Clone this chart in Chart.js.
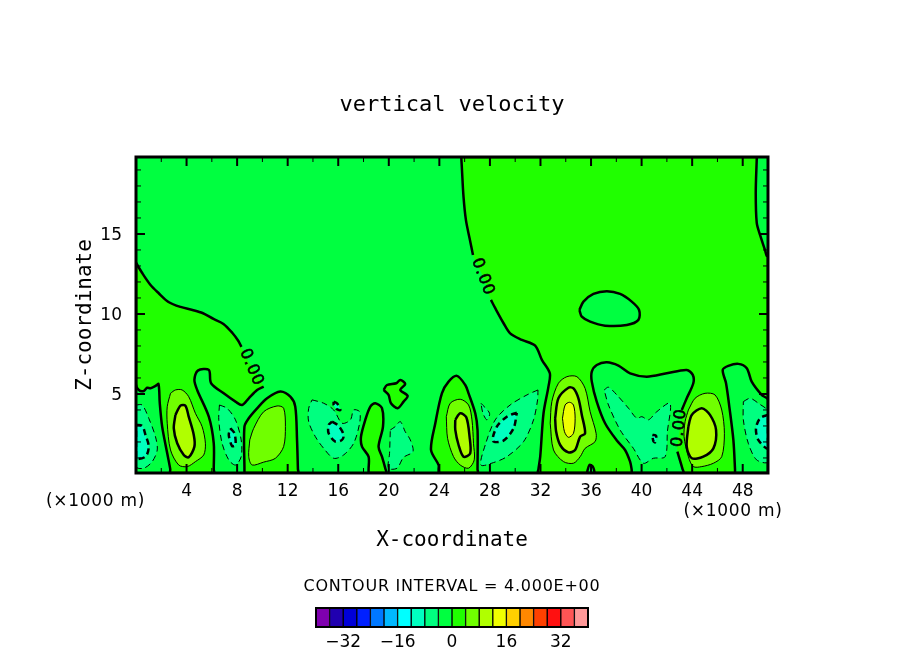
<!DOCTYPE html>
<html>
<head>
<meta charset="utf-8">
<style>
  body { margin: 0; background: #fff; }
  #wrap { position: relative; width: 904px; height: 654px; overflow: hidden; }
  canvas { position: absolute; display: block; }
  #field { left: 0; top: 0; }
  #bar { left: 296px; top: 600px; }
</style>
<script src="https://cdn.jsdelivr.net/npm/chart.js@4"></script>
</head>
<body>
<div id="wrap">
  <canvas id="field" width="904" height="654"></canvas>
  <canvas id="bar" width="312" height="54"></canvas>
</div>
<script>
// axis ranges and ticks
const xMin = 0, xMax = 50, zMin = 0.06, zMax = 19.81;
const xTicks = [4, 8, 12, 16, 20, 24, 28, 32, 36, 40, 44, 48];
const xMinorTicks = [2, 6, 10, 14, 18, 22, 26, 30, 34, 38, 42, 46];
const zTicks = [5, 10, 15];
const zMinorTicks = [1, 2, 3, 4, 6, 7, 8, 9, 11, 12, 13, 14, 16, 17, 18, 19];

// colour key, one colour per 4 unit band from -40 to 40
const barColors = ['#7F00AF', '#2000B0', '#0000D8', '#0020FF', '#0078FF', '#00B8FF', '#00FFFF', '#00FFC0', '#00FF80', '#00FF40',
  '#20FF00', '#70FF00', '#B0FF00', '#F0FF00', '#FFD000', '#FF8800', '#FF4000', '#FF1010', '#FF5555', '#FF9999'];
const barLevels = [-40, -36, -32, -28, -24, -20, -16, -12, -8, -4, 0, 4, 8, 12, 16, 20, 24, 28, 32, 36];
const barTicks = [-32, -16, 0, 16, 32];

// contours, [x, z] in axis units
const upperLeft = [[0, 13.2], [0.49, 12.56], [1.15, 11.81], [1.78, 11.31], [2.57, 10.75], [3.52, 10.44], [4.47, 10.25], [5.26, 10.06], [6.13, 9.69], [6.92, 9.38], [7.63, 8.81], [8.1, 8.31], [8.34, 7.94],
  [8.73, 7.25], [9.45, 6.38], [10.0, 5.63], [10.1, 5.46], [9.58, 5.25], [8.92, 4.73], [8.39, 4.31], [7.87, 4.52], [6.94, 5.04], [5.94, 5.67], [5.76, 6.5], [4.89, 6.46], [4.62, 5.88], [4.84, 5.25],
  [5.76, 3.58], [6.15, 1.92], [6.15, 0.3], [6.15, 0.06], [2.73, 0.06], [2.71, 0.3], [2.47, 1.29], [2.07, 2.96], [1.88, 4.42], [1.78, 5.62], [1.54, 5.5], [1.15, 5.36], [0.88, 5.39], [0.62, 5.19], [0.22, 5.25], [0, 5.62]];
const upperLeftGaps = [13, 14, 15];
const rightSide = [[25.73, 19.81], [25.74, 19.7], [25.79, 19.0], [25.91, 17.33], [26.1, 15.88], [26.39, 14.73], [26.66, 13.69], [26.99, 13.13], [27.57, 12.13], [28.08, 10.88], [28.42, 10.36], [29.08, 9.42], [29.6, 8.79], [30.53, 8.38], [31.58, 8.02], [32.11, 7.13],
  [32.74, 6.29], [32.63, 5.46], [32.24, 3.79], [31.98, 1.08], [31.84, 0.3], [31.82, 0.06], [50, 0.06], [50, 13.63], [49.9, 13.63], [49.76, 14.0], [49.37, 14.94], [49.11, 15.69], [49.03, 17.56], [49.11, 19.7], [49.11, 19.81]];
const rightSideGaps = [7, 8];
const ovalNeg = [[35.08, 10.25], [35.4, 10.77], [36.19, 11.25], [37.25, 11.42], [38.3, 11.25], [39.22, 10.77], [39.8, 10.25], [39.75, 9.63], [38.83, 9.31], [37.11, 9.27], [35.93, 9.52], [35.27, 9.83]];
const valley40 = [[39.22, 0.06], [39.21, 0.3], [39.09, 0.77], [38.69, 1.5], [38.04, 2.09], [37.11, 3.17], [36.45, 4.52], [36.06, 5.77], [36.06, 6.39], [36.45, 6.81], [37.25, 6.98], [38.17, 6.77], [39.09, 6.29], [40.41, 6.08], [41.99, 6.29], [43.57, 6.5], [44.05, 6.19], [44.09, 5.67], [43.57, 4.73], [43.18, 4.0], [43.08, 3.12], [42.88, 2.06], [42.83, 1.39], [43.24, 0.3], [43.3, 0.06]];
const valley40Gaps = [20, 21];
const valley40Neg4 = [[37.04, 5.25], [37.38, 5.42], [38.04, 4.94], [38.96, 4.11], [39.62, 3.48], [40.02, 3.58], [40.54, 3.38], [41.2, 3.89], [42.25, 4.42], [42.04, 2.64], [41.86, 1.08], [40.93, 0.98], [40.14, 0.67], [39.35, 1.6], [38.3, 2.75], [37.38, 4.31]];
const valley40Neg8 = [[40.85, 2.44], [41.15, 2.38], [41.07, 1.98], [40.93, 2.06]];
const bump36 = [[35.67, 0.06], [35.87, 0.56], [36.14, 0.46], [36.24, 0.06]];
const valley49 = [[47.39, 0.06], [47.39, 0.3], [47.26, 2.13], [46.94, 4.21], [46.68, 5.67], [46.42, 6.5], [46.86, 6.75], [47.65, 6.88], [48.32, 6.61], [48.71, 5.77], [49.5, 4.94], [50, 4.63], [50, 0.06]];
const valley49Neg4 = [[48.05, 4.52], [48.58, 4.73], [49.23, 4.42], [50, 3.89], [50, 0.77], [49.1, 0.88], [48.44, 1.92], [48.05, 3.38]];
const valley49Neg8 = [[50, 3.69], [49.37, 3.48], [49.05, 2.85], [49.23, 2.13], [50, 1.6]];
const valley1Neg4 = [[0, 4.31], [0.49, 4.31], [1.01, 3.48], [1.54, 2.33], [1.68, 1.5], [1.28, 0.77], [0.62, 0.36], [0, 0.46]];
const valley1Neg8 = [[0, 3.06], [0.49, 3.0], [0.75, 2.44], [1.01, 1.71], [0.75, 1.08], [0, 1.0]];
const mound4Pos4 = [[2.73, 5.04], [3.12, 5.25], [3.65, 5.25], [4.17, 4.83], [4.7, 3.79], [5.23, 2.96], [5.49, 1.92], [5.36, 1.19], [4.7, 0.77], [4.05, 0.46], [3.38, 0.56], [2.73, 1.5], [2.47, 3.17], [2.47, 4.2]];
const mound4Pos8 = [[3.12, 3.69], [3.52, 4.27], [3.91, 4.27], [4.17, 3.58], [4.57, 2.44], [4.62, 1.71], [4.17, 1.04], [3.78, 1.19], [3.26, 1.92], [2.99, 2.85]];
const valley8Neg4 = [[6.6, 4.31], [7.21, 4.1], [7.87, 3.38], [8.32, 2.13], [8.32, 1.08], [7.87, 0.56], [7.34, 0.88], [6.81, 1.92], [6.55, 3.38]];
const valley8Neg8 = [[7.47, 2.85], [7.79, 2.54], [7.87, 1.81], [7.6, 1.75], [7.34, 2.44]];
const mound11 = [[8.58, 0.06], [8.58, 0.3], [8.58, 2.96], [8.92, 3.48], [9.58, 4.1], [10.37, 4.73], [11.42, 5.15], [12.21, 4.83], [12.6, 4.21], [12.74, 2.13], [12.81, 0.3], [12.82, 0.06]];
const mound11Pos4 = [[9.0, 2.13], [9.31, 2.85], [10.1, 3.89], [11.16, 4.25], [11.68, 4.11], [11.82, 2.96], [11.68, 1.71], [11.03, 0.98], [10.1, 0.74], [9.19, 0.56], [8.92, 1.08]];
const valley16Neg4 = [[13.93, 4.63], [14.85, 4.42], [15.64, 4.0], [16.3, 3.17], [16.96, 3.38], [17.22, 4.0], [17.69, 3.89], [17.69, 3.17], [17.22, 1.92], [16.43, 1.19], [15.64, 0.98], [14.85, 1.6], [14.19, 2.33], [13.66, 3.27], [13.66, 4.1]];
const valley16Neg8 = [[15.51, 3.27], [16.03, 3.0], [16.43, 2.44], [16.3, 2.13], [15.77, 2.02], [15.24, 2.54], [15.24, 3.06]];
const valley16Blob = [[15.64, 4.52], [15.9, 4.42], [16.17, 4.0], [15.9, 4.04], [15.64, 4.31]];
const mound19 = [[18.4, 0.06], [18.4, 0.3], [18.4, 1.08], [17.88, 1.71], [17.8, 2.33], [18.14, 3.38], [18.54, 4.21], [18.93, 4.42], [19.46, 4.11], [19.54, 2.96], [19.19, 1.71], [19.46, 1.08], [19.74, 0.3], [19.8, 0.06]];
const blob20 = [[19.59, 5.25], [19.86, 5.56], [20.59, 5.67], [20.91, 5.88], [21.3, 5.63], [20.91, 5.25], [21.49, 4.88], [21.17, 4.52], [20.7, 4.11], [20.17, 4.42], [19.98, 4.94]];
const valley21Neg4 = [[20.12, 2.75], [20.51, 2.96], [20.91, 3.27], [21.3, 2.64], [21.7, 2.13], [21.91, 1.39], [21.17, 1.04], [20.65, 0.36], [19.98, 0.36], [20.06, 1.29]];
const mound26 = [[23.94, 0.06], [23.94, 0.3], [23.94, 0.56], [23.34, 1.5], [23.68, 3.17], [24.2, 5.04], [24.73, 5.77], [25.39, 6.13], [26.05, 5.56], [26.31, 5.04], [26.84, 3.79], [27.02, 2.75], [27.02, 0.3], [27.02, 0.06]];
const mound26Pos4 = [[24.55, 3.58], [24.86, 4.42], [25.65, 4.67], [26.31, 4.31], [26.58, 3.38], [26.7, 1.92], [26.76, 0.88], [26.31, 0.36], [25.65, 0.56], [25.12, 1.08], [24.65, 2.23]];
const mound26Pos8 = [[25.26, 3.38], [25.65, 3.79], [26.13, 3.54], [26.39, 2.33], [26.44, 1.29], [25.91, 1.08], [25.52, 1.81], [25.26, 2.75]];
const valley29Neg4 = [[31.8, 5.25], [30.93, 4.94], [29.6, 4.31], [28.42, 3.38], [27.63, 1.81], [27.29, 0.56], [28.28, 0.71], [29.34, 1.08], [30.66, 2.02], [31.45, 3.38], [31.77, 4.63]];
const valley29Neg8 = [[30.13, 3.83], [29.34, 3.58], [28.55, 2.96], [28.24, 2.06], [29.07, 2.08], [29.87, 2.85]];
const valley28Small = [[27.29, 4.42], [27.97, 3.79], [27.76, 3.38], [27.45, 3.79]];
const mound34Pos4 = [[32.77, 3.17], [32.9, 4.52], [33.42, 5.67], [34.09, 6.08], [34.88, 6.08], [35.53, 5.35], [35.93, 3.89], [36.4, 2.54], [36.32, 2.02], [35.53, 1.6], [35.14, 1.08], [34.61, 0.67], [33.82, 0.77], [33.03, 1.5]];
const mound34Pos8 = [[33.16, 3.48], [33.42, 4.73], [34.21, 5.39], [34.61, 5.35], [35.0, 4.73], [35.27, 3.69], [35.53, 2.54], [35.14, 2.33], [34.74, 1.5], [34.21, 1.35], [33.56, 1.81], [33.24, 2.64]];
const mound34Pos12 = [[33.74, 3.48], [33.95, 4.31], [34.29, 4.48], [34.61, 4.31], [34.74, 3.48], [34.61, 2.54], [34.21, 2.29], [33.9, 2.64]];
const mound45Pos4 = [[43.7, 4.0], [44.23, 4.73], [45.02, 5.04], [45.81, 4.94], [46.34, 4.0], [46.55, 2.54], [46.34, 1.08], [45.68, 0.67], [44.76, 0.46], [44.09, 0.46], [43.7, 1.08], [43.36, 2.33], [43.44, 3.27]];
const mound45Pos8 = [[43.7, 2.96], [43.97, 3.69], [44.76, 4.11], [45.41, 3.69], [45.89, 2.75], [45.68, 1.6], [44.88, 1.08], [43.97, 0.98], [43.57, 1.71]];

// [contour, lower edge of its colour band, points left out of the outline for a label]
const layers = [
  [upperLeft, 0, upperLeftGaps], [rightSide, 0, rightSideGaps], [ovalNeg, -4], [valley40, -4, valley40Gaps], [valley40Neg4, -8], [valley40Neg8, -12],
  [bump36, -4], [valley49, -4], [valley49Neg4, -8], [valley49Neg8, -12], [valley1Neg4, -8], [valley1Neg8, -12],
  [mound4Pos4, 4], [mound4Pos8, 8], [valley8Neg4, -8], [valley8Neg8, -12], [mound11, 0], [mound11Pos4, 4],
  [valley16Neg4, -8], [valley16Neg8, -12], [valley16Blob, -12], [mound19, 0], [blob20, 0], [valley21Neg4, -8],
  [mound26, 0], [mound26Pos4, 4], [mound26Pos8, 8], [valley29Neg4, -8], [valley29Neg8, -12], [valley28Small, -8],
  [mound34Pos4, 4], [mound34Pos8, 8], [mound34Pos12, 12], [mound45Pos4, 4], [mound45Pos8, 8]
];

// "0.00" labels sitting on the zero contour: [x, z, degrees]
const zeroLabels = [[9.13, 6.66, 67], [27.43, 12.31, 69], [43.0, 2.88, -84]];

const bandColor = level => barColors[barLevels.indexOf(level)];
const toXY = p => ({ x: p[0], y: p[1] });

const datasets = layers.flatMap(([points, level, gaps]) => {
  // a band is outlined by its contour on the side away from zero
  const contour = level >= 0 ? level : level + 4;
  const thick = contour % 8 === 0;
  const base = {
    showLine: true,
    borderColor: '#000',
    borderWidth: thick ? 2.5 : 1,
    borderDash: contour < 0 ? [6, 4] : [],
    borderJoinStyle: 'round',
    pointRadius: 0,
    tension: 0.3
  };
  const closed = points.concat([points[0]]);
  const filled = { ...base, data: closed.map(toXY), fill: 'shape', backgroundColor: bandColor(level) };
  if (!gaps) return [filled];
  // fill goes right round, the line stops at the label
  return [
    { ...filled, borderWidth: 0 },
    { ...base, data: closed.map((p, i) => gaps.includes(i) ? { x: NaN, y: NaN } : toXY(p)), fill: false, spanGaps: false }
  ];
}).map((d, i) => ({ ...d, order: -i }));

const plotDecor = {
  id: 'plotDecor',
  afterLayout(chart) {
    // title centred on the page, not on the plot + left axis
    chart.titleBlock.right = chart.width;
  },
  beforeDatasetsDraw(chart) {
    const { ctx, chartArea: a } = chart;
    ctx.save();
    ctx.fillStyle = bandColor(-4);
    ctx.fillRect(a.left, a.top, a.right - a.left, a.bottom - a.top);
    ctx.restore();
  },
  afterDatasetsDraw(chart) {
    const { ctx, chartArea: a, scales } = chart;
    ctx.save();
    ctx.strokeStyle = '#000';
    const xMark = (v, len, w) => {
      const px = scales.x.getPixelForValue(v);
      ctx.lineWidth = w;
      ctx.beginPath();
      ctx.moveTo(px, a.top); ctx.lineTo(px, a.top + len);
      ctx.moveTo(px, a.bottom); ctx.lineTo(px, a.bottom - len);
      ctx.stroke();
    };
    const zMark = (v, len, w) => {
      const py = scales.y.getPixelForValue(v);
      ctx.lineWidth = w;
      ctx.beginPath();
      ctx.moveTo(a.left, py); ctx.lineTo(a.left + len, py);
      ctx.moveTo(a.right, py); ctx.lineTo(a.right - len, py);
      ctx.stroke();
    };
    xTicks.forEach(v => xMark(v, 9, 2));
    xMinorTicks.forEach(v => xMark(v, 5, 1));
    zTicks.forEach(v => zMark(v, 9, 2));
    zMinorTicks.forEach(v => zMark(v, 5, 1));
    ctx.lineWidth = 3;
    ctx.strokeRect(a.left, a.top, a.right - a.left, a.bottom - a.top);

    // labels along the contour
    ctx.fillStyle = '#000';
    ctx.lineWidth = 0.6;
    ctx.font = '16px "DejaVu Sans"';
    ctx.letterSpacing = '0.8px';
    ctx.textAlign = 'center';
    ctx.textBaseline = 'middle';
    zeroLabels.forEach(([x, z, deg]) => {
      ctx.save();
      ctx.translate(scales.x.getPixelForValue(x), scales.y.getPixelForValue(z));
      ctx.rotate(deg * Math.PI / 180);
      ctx.fillText('0.00', 0, 0);
      ctx.strokeText('0.00', 0, 0);
      ctx.restore();
    });

    // unit notes and the contour interval line
    ctx.font = '17px "DejaVu Sans"';
    ctx.letterSpacing = '0.7px';
    ctx.fillText('(×1000 m)', 95.5, 502);
    ctx.fillText('(×1000 m)', 733, 512);
    ctx.font = '16px "DejaVu Sans"';
    ctx.letterSpacing = '0.75px';
    ctx.fillText('CONTOUR INTERVAL = 4.000E+00', 452, 587);
    ctx.restore();
  }
};

new Chart(document.getElementById('field'), {
  type: 'scatter',
  data: { datasets },
  plugins: [plotDecor],
  options: {
    responsive: false,
    animation: false,
    events: [],
    layout: { padding: { left: 0, right: 136, top: 0, bottom: 0 } },
    plugins: {
      legend: { display: false },
      tooltip: { enabled: false },
      title: {
        display: true,
        text: 'vertical velocity',
        color: '#000',
        font: { family: '"DejaVu Sans Mono"', size: 22, weight: 'normal' },
        padding: { top: 92, bottom: 38.6 }
      }
    },
    scales: {
      x: {
        type: 'linear', min: xMin, max: xMax,
        afterBuildTicks: s => { s.ticks = xTicks.map(value => ({ value })); },
        afterFit: s => { s.height = 181; },
        grid: { display: false, drawTicks: false }, border: { display: false },
        ticks: { color: '#000', padding: 8, maxRotation: 0, autoSkip: false, font: { family: '"DejaVu Sans"', size: 17 } },
        title: {
          display: true, text: 'X-coordinate', color: '#000',
          font: { family: '"DejaVu Sans Mono"', size: 21, weight: 'normal' },
          padding: { top: 0, bottom: 101 }
        }
      },
      y: {
        type: 'linear', min: zMin, max: zMax,
        afterBuildTicks: s => { s.ticks = zTicks.map(value => ({ value })); },
        afterFit: s => { s.width = 136; },
        grid: { display: false, drawTicks: false }, border: { display: false },
        ticks: { color: '#000', padding: 14, labelOffset: 2, font: { family: '"DejaVu Sans"', size: 17 } },
        title: {
          display: true, text: 'Z-coordinate', color: '#000',
          font: { family: '"DejaVu Sans Mono"', size: 21, weight: 'normal' },
          padding: { top: 73, bottom: 0 }
        }
      }
    }
  }
});

const barFrame = {
  id: 'barFrame',
  afterDatasetsDraw(chart) {
    const { ctx, chartArea: a } = chart;
    ctx.save();
    ctx.strokeStyle = '#000';
    ctx.lineWidth = 2;
    ctx.strokeRect(a.left, a.top, a.right - a.left, a.bottom - a.top);
    ctx.restore();
  }
};

new Chart(document.getElementById('bar'), {
  type: 'bar',
  data: {
    labels: [''],
    datasets: barLevels.map((lo, i) => ({
      data: [[lo, lo + 4]],
      backgroundColor: barColors[i],
      borderColor: '#000',
      borderWidth: 1,
      borderSkipped: false,
      grouped: false,
      barPercentage: 1,
      categoryPercentage: 1
    }))
  },
  plugins: [barFrame],
  options: {
    indexAxis: 'y',
    responsive: false,
    animation: false,
    events: [],
    layout: { padding: { left: 20, right: 20, top: 8, bottom: 0 } },
    plugins: { legend: { display: false }, tooltip: { enabled: false } },
    scales: {
      y: { display: false },
      x: {
        type: 'linear', min: barLevels[0], max: 40,
        afterBuildTicks: s => { s.ticks = barTicks.map(value => ({ value })); },
        afterFit: s => { s.height = 27; },
        grid: { display: false, drawTicks: false }, border: { display: false },
        ticks: {
          color: '#000', padding: 5, maxRotation: 0, autoSkip: false,
          font: { family: '"DejaVu Sans"', size: 17 },
          callback: v => v < 0 ? '−' + (-v) : String(v)
        }
      }
    }
  }
});
</script>
</body>
</html>
